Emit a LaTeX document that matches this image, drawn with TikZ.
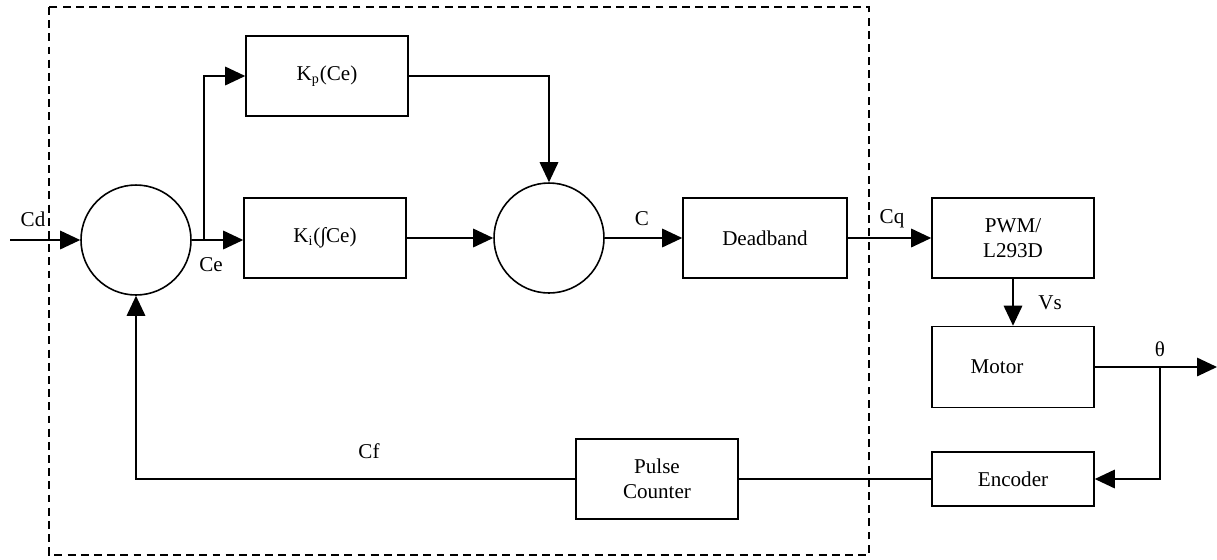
\documentclass[tikz,border=0pt]{standalone}
\usepackage{fontspec}
\setmainfont{Liberation Serif}
\usetikzlibrary{arrows.meta}

\begin{document}
\begin{tikzpicture}[x=0.02cm, y=-0.02cm, line width=0.9pt,
    >={Triangle[length=0.4cm, width=0.37cm]},
    font=\fontsize{12}{14}\selectfont,
    block/.style={draw, rectangle, minimum width=3.24cm, minimum height=1.6cm, align=center},
    summer/.style={draw, circle, minimum size=2.2cm, inner sep=0pt},
    lbl/.style={inner sep=1pt}]
                % Fix the picture size
                \useasboundingbox (0,0) rectangle (1217,559);

                % Define the blocks
                \node[summer] (sum1) at (136,240) {};
                \node[block] (kp) at (327,76) {K\textsubscript{p}(Ce)};
                \node[block] (ki) at (325,238) {K\textsubscript{i}(∫Ce)};
                \node[summer] (sum2) at (549,238) {};
                \node[block, minimum width=3.28cm] (dead) at (765,238) {Deadband};
                \node[block] (pwm) at (1013,238) {PWM/\\L293D};
                \node[block, minimum height=1.62cm] (motor) at (1013,367) {};
                \node at ([xshift=-0.32cm]motor.center) {Motor};
                \node[block, minimum height=1.08cm] (enc) at (1013,479) {Encoder};
                \node[block] (pc) at (657,479) {Pulse\\Counter};

                % Define the coordinates
                \coordinate (cdin) at (10,240);
                \coordinate (jce) at (204,240);
                \coordinate (jth) at (1160,367);
                \coordinate (out) at (1217,367);

                % Draw the forward path
                \draw[->] (cdin) -- (sum1.west);
                \draw (sum1.east) -- (jce);
                \draw[->] (jce) -- (jce -| ki.west);
                \draw[->] (jce) |- (kp.west);
                \draw[->] (kp.east) -| (sum2.north);
                \draw[->] (ki.east) -- (sum2.west);
                \draw[->] (sum2.east) -- (dead.west);
                \draw[->] (dead.east) -- (pwm.west);
                \draw[->] (pwm.south) -- (motor.north);
                \draw[->] (motor.east) -- (out);

                % Draw the feedback path
                \draw[->] (jth) |- (enc.east);
                \draw (enc.west) -- (pc.east);
                \draw[->] (pc.west) -| (sum1.south);

                % Draw the controller boundary
                \draw[dashed, dash pattern=on 4.5pt off 3pt] (49,7) rectangle (869,555);

                % Draw the labels
                \node[lbl] (cd) at (33,219) {Cd};
                \node[lbl] (ce) at (211,265) {Ce};
                \node[lbl] (c) at (642,219) {C};
                \node[lbl] (cq) at (892,219) {Cq};
                \node[lbl] (vs) at (1050,303) {Vs};
                \node[lbl] (th) at (1160,349) {θ};
                \node[lbl] (cf) at (369,451) {Cf};
              \end{tikzpicture}
\end{document}
